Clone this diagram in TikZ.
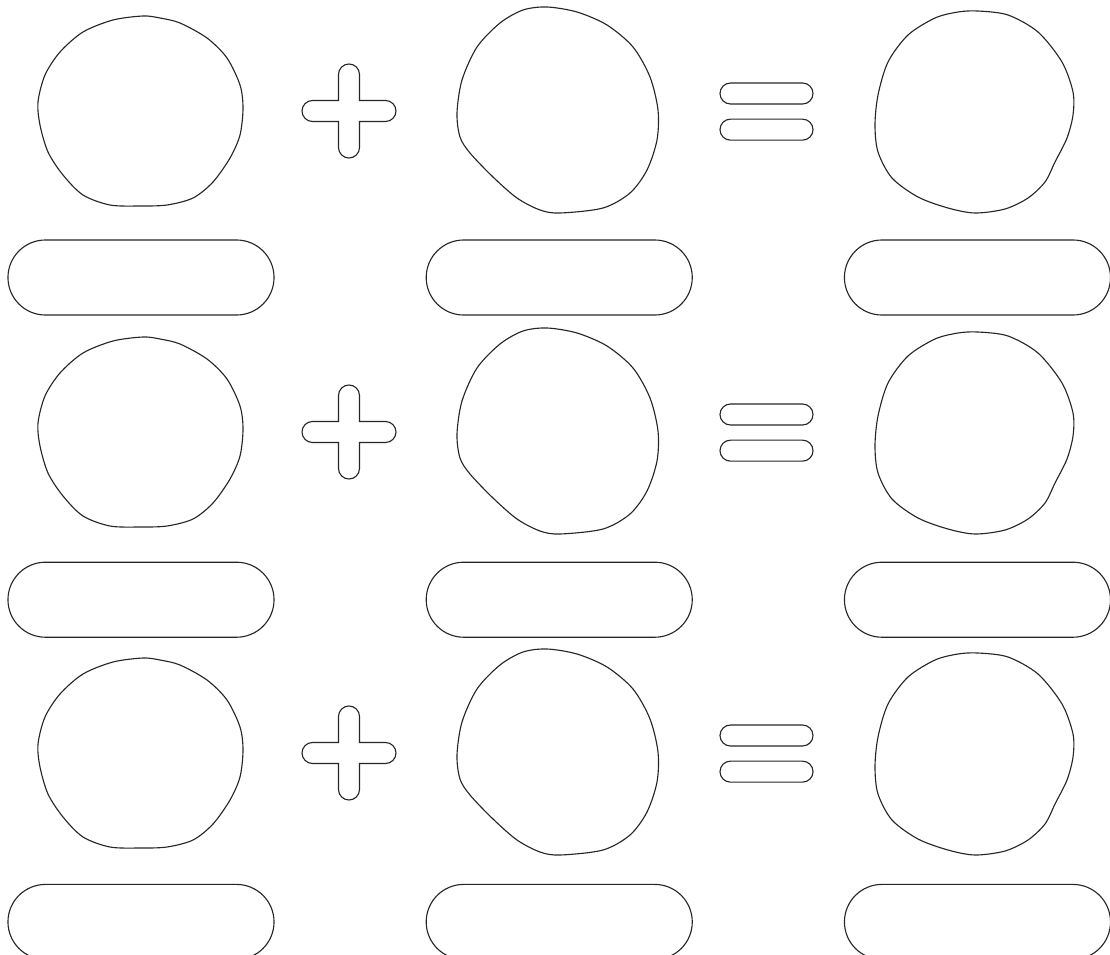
\documentclass[tikz,border=0pt]{standalone}
\usepackage{tikz}
\usetikzlibrary{positioning, shapes.misc}

\begin{document}
\begin{tikzpicture}[
  x=0.025cm, y=-0.025cm,
  node distance=3.775cm,
  outline/.style={draw=black!85, line width=0.8pt},
  answer/.style={
    outline, rounded rectangle, inner sep=0pt,
    minimum width=6.65cm, minimum height=1.875cm
  },
  bar/.style={answer, minimum width=2.325cm, minimum height=0.525cm},
  blobleft/.pic={
    \draw[outline] plot[smooth cycle] coordinates {
      (2,-95) (19,-93) (39,-88) (66,-73) (86,-53) (99,-26) (102,-3) (99,24)
      (89,47) (72,71) (52,87) (26,94) (-1,95) (-31,94) (-58,84) (-78,64)
      (-93,41) (-101,14) (-103,-9) (-96,-36) (-81,-59) (-58,-79) (-28,-91)};
  },
  blobmid/.pic={
    \draw[outline] plot[smooth cycle] coordinates {
      (-11,-104) (19,-99) (49,-86) (75,-64) (92,-34) (100,-1) (99,29) (89,59)
      (72,82) (45,97) (2,102) (-18,99) (-41,87) (-65,66) (-88,42) (-98,26)
      (-101,2) (-96,-31) (-81,-64) (-58,-88) (-35,-101)};
  },
  blobright/.pic={
    \draw[outline] plot[smooth cycle] coordinates {
      (3,-101) (33,-97) (63,-80) (87,-50) (98,-20) (98,3) (92,26) (80,50)
      (70,70) (53,86) (30,97) (0,101) (-27,96) (-57,85) (-83,66) (-97,40)
      (-100,13) (-97,-17) (-87,-50) (-67,-77) (-40,-94) (-17,-100)};
  },
  plussign/.pic={
    \draw[outline] (-10.5,-10.5) -- (-10.5,-36.5)
      arc[start angle=180, end angle=0, radius=7.47pt] -- (10.5,-10.5) -- (36.5,-10.5)
      arc[start angle=90, end angle=-90, radius=7.47pt] -- (10.5,10.5) -- (10.5,36.5)
      arc[start angle=0, end angle=-180, radius=7.47pt] -- (-10.5,10.5) -- (-36.5,10.5)
      arc[start angle=270, end angle=90, radius=7.47pt] -- cycle;
  }
]
\clip (0,0) rectangle (1110,954);

% row 1
\pic at (141,111) {blobleft};
\pic at (349,111) {plussign};
\pic at (558,111) {blobmid};
\node[bar] (eqtop1) at (766.5,93.5) {};
\node[bar, below=0.35cm of eqtop1] (eqbot1) {};
\pic at (975,112) {blobright};
\node[answer] (left1) at (141,277.5) {};
\node[answer, right=of left1] (mid1) {};
\node[answer, right=of mid1] (right1) {};

% row 2
\pic at (141,432) {blobleft};
\pic at (349,432) {plussign};
\pic at (558,432) {blobmid};
\node[bar] (eqtop2) at (766.5,414.5) {};
\node[bar, below=0.35cm of eqtop2] (eqbot2) {};
\pic at (975,433) {blobright};
\node[answer, below=6.15cm of left1] (left2) {};
\node[answer, right=of left2] (mid2) {};
\node[answer, right=of mid2] (right2) {};

% row 3
\pic at (141,753) {blobleft};
\pic at (349,753) {plussign};
\pic at (558,753) {blobmid};
\node[bar] (eqtop3) at (766.5,735.5) {};
\node[bar, below=0.35cm of eqtop3] (eqbot3) {};
\pic at (975,754) {blobright};
\node[answer, below=6.15cm of left2] (left3) {};
\node[answer, right=of left3] (mid3) {};
\node[answer, right=of mid3] (right3) {};
\end{tikzpicture}
\end{document}
